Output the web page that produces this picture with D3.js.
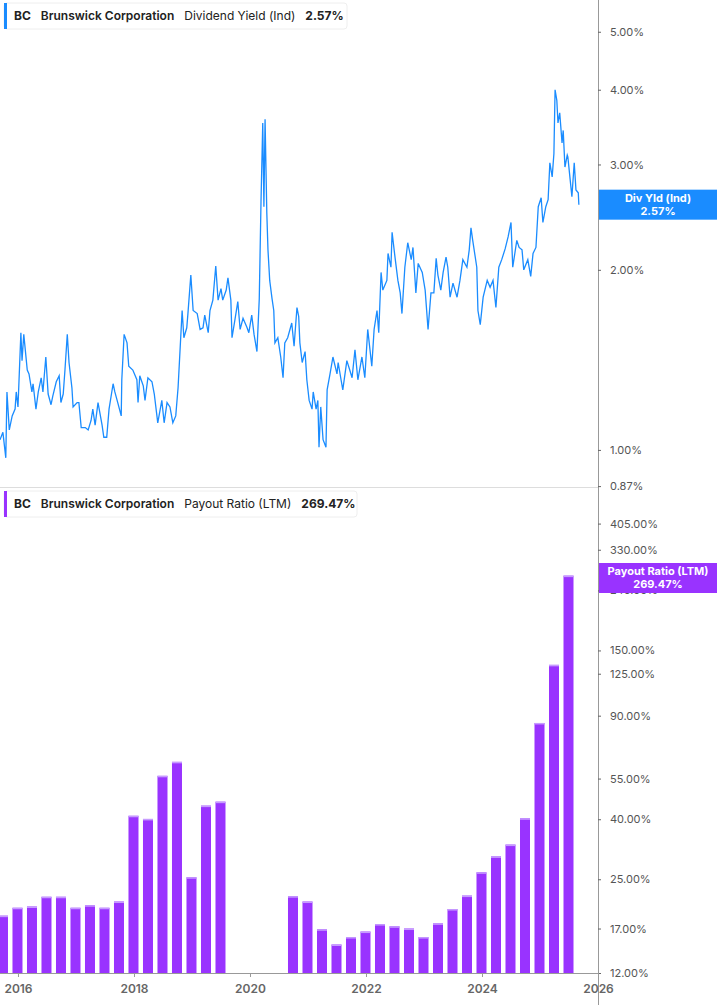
<!DOCTYPE html>
<html><head><meta charset="utf-8">
<script src="https://cdn.jsdelivr.net/npm/d3@7"></script>
<style>body{margin:0;background:#fff;font-family:Inter,"Noto Sans",sans-serif}</style>
</head><body><svg id="c" width="717" height="1005"></svg>
<script>
const yieldYears=[2015.69,2015.74,2015.79,2015.81,2015.85,2015.90,2015.95,2015.97,2016.00,2016.05,2016.07,2016.10,2016.16,2016.19,2016.24,2016.26,2016.31,2016.35,2016.40,2016.43,2016.48,2016.52,2016.57,2016.60,2016.66,2016.71,2016.74,2016.78,2016.81,2016.85,2016.88,2016.93,2016.95,2017.02,2017.05,2017.09,2017.16,2017.21,2017.26,2017.29,2017.33,2017.38,2017.45,2017.48,2017.53,2017.57,2017.64,2017.67,2017.72,2017.78,2017.79,2017.83,2017.88,2017.91,2017.98,2018.05,2018.07,2018.10,2018.16,2018.19,2018.24,2018.31,2018.35,2018.41,2018.48,2018.52,2018.57,2018.62,2018.67,2018.72,2018.76,2018.83,2018.86,2018.91,2018.93,2018.98,2019.02,2019.09,2019.14,2019.19,2019.22,2019.28,2019.31,2019.36,2019.41,2019.45,2019.50,2019.53,2019.59,2019.62,2019.67,2019.69,2019.74,2019.79,2019.83,2019.88,2019.95,2019.98,2020.03,2020.07,2020.12,2020.16,2020.19,2020.22,2020.24,2020.26,2020.29,2020.31,2020.34,2020.38,2020.41,2020.43,2020.48,2020.53,2020.57,2020.60,2020.65,2020.72,2020.76,2020.81,2020.84,2020.86,2020.90,2020.95,2020.98,2021.02,2021.07,2021.09,2021.14,2021.17,2021.19,2021.22,2021.26,2021.31,2021.33,2021.38,2021.43,2021.50,2021.52,2021.57,2021.60,2021.67,2021.72,2021.76,2021.81,2021.86,2021.93,2021.98,2022.03,2022.10,2022.14,2022.19,2022.22,2022.26,2022.29,2022.36,2022.38,2022.43,2022.45,2022.50,2022.55,2022.59,2022.62,2022.67,2022.72,2022.78,2022.81,2022.86,2022.90,2022.97,2023.02,2023.07,2023.12,2023.17,2023.21,2023.24,2023.29,2023.33,2023.38,2023.41,2023.45,2023.50,2023.57,2023.62,2023.67,2023.74,2023.78,2023.81,2023.84,2023.91,2023.93,2023.97,2024.02,2024.09,2024.14,2024.19,2024.24,2024.29,2024.34,2024.40,2024.45,2024.50,2024.53,2024.60,2024.64,2024.69,2024.72,2024.79,2024.84,2024.88,2024.93,2024.97,2025.02,2025.05,2025.10,2025.14,2025.17,2025.21,2025.24,2025.26,2025.29,2025.31,2025.34,2025.38,2025.40,2025.43,2025.47,2025.48,2025.52,2025.55,2025.59,2025.62,2025.66,2025.67];
const yieldValues=[1.04,1.07,0.97,1.25,1.08,1.14,1.17,1.25,1.18,1.57,1.41,1.56,1.36,1.34,1.25,1.29,1.17,1.25,1.32,1.25,1.43,1.24,1.19,1.23,1.30,1.33,1.20,1.24,1.36,1.56,1.40,1.27,1.18,1.20,1.20,1.09,1.09,1.08,1.12,1.17,1.10,1.20,1.10,1.05,1.05,1.17,1.29,1.25,1.20,1.14,1.31,1.56,1.51,1.38,1.36,1.31,1.20,1.33,1.28,1.21,1.32,1.30,1.24,1.11,1.21,1.11,1.20,1.18,1.11,1.14,1.27,1.71,1.54,1.60,1.69,1.96,1.71,1.69,1.59,1.60,1.68,1.57,1.71,1.78,2.03,1.78,1.86,1.78,1.85,1.94,1.78,1.54,1.65,1.77,1.59,1.66,1.60,1.57,1.68,1.56,1.46,1.79,2.60,3.52,2.55,3.57,2.49,2.16,1.92,1.79,1.71,1.51,1.54,1.43,1.32,1.51,1.54,1.63,1.49,1.73,1.67,1.51,1.40,1.46,1.31,1.21,1.17,1.25,1.17,1.21,1.01,1.18,1.04,1.01,1.26,1.34,1.43,1.34,1.40,1.31,1.26,1.41,1.36,1.32,1.47,1.31,1.43,1.32,1.59,1.38,1.59,1.71,1.57,1.98,1.85,1.92,2.13,2.02,2.31,2.10,1.92,1.83,1.69,2.02,2.22,2.08,2.18,1.83,2.05,1.98,1.85,1.59,1.83,1.83,2.09,1.96,1.85,1.98,2.10,2.02,1.80,1.90,1.80,1.92,2.08,2.02,2.16,2.35,2.24,2.02,1.71,1.62,1.80,1.92,1.87,1.92,1.73,2.02,2.08,2.17,2.27,2.40,2.02,2.24,2.18,2.16,2.00,2.08,1.95,2.13,2.18,2.55,2.64,2.40,2.55,2.62,3.02,2.86,3.13,4.00,3.84,3.52,3.66,3.26,3.42,2.97,3.11,3.09,2.83,2.65,3.02,2.72,2.69,2.57];
const payoutQuarters=["2015Q3","2015Q4","2016Q1","2016Q2","2016Q3","2016Q4","2017Q1","2017Q2","2017Q3","2017Q4","2018Q1","2018Q2","2018Q3","2018Q4","2019Q1","2019Q2","2020Q3","2020Q4","2021Q1","2021Q2","2021Q3","2021Q4","2022Q1","2022Q2","2022Q3","2022Q4","2023Q1","2023Q2","2023Q3","2023Q4","2024Q1","2024Q2","2024Q3","2024Q4","2025Q1","2025Q2"];
const payoutValues=[18.8,20.0,20.2,21.8,21.8,20.0,20.4,20.0,21.0,41.1,40.1,56.2,62.7,25.4,44.5,45.9,21.9,21.0,16.9,15.0,15.9,16.6,17.6,17.3,17.0,15.9,17.7,19.8,22.0,26.4,29.9,32.8,40.3,85,134,269.47];
const yieldTicks=[1,2,3,4,5];
const payoutTicks=[12,17,25,40,55,90,125,150,240,330,405];
const yearTicks=[2016,2018,2020,2022,2024,2026];

const svg=d3.select("#c");
const W=598;
const x=d3.scaleLinear().domain([2015.69,2026.0]).range([0,W]);
const yTop=d3.scaleLog().domain([0.867,5.65]).range([487,0]);
const yBot=d3.scaleLog().domain([12,531]).range([973,489]);
const blue="#1a8cff", purple="#9933ff";

// separator & axes
svg.append("line").attr("x1",0).attr("x2",W).attr("y1",487.5).attr("y2",487.5).attr("stroke","#ddd");
svg.append("line").attr("x1",W+0.5).attr("x2",W+0.5).attr("y1",0).attr("y2",1005).attr("stroke","#999");
svg.append("line").attr("x1",0).attr("x2",W).attr("y1",973.5).attr("y2",973.5).attr("stroke","#999");

const gT=svg.append("g").attr("transform",`translate(${W},0)`).call(d3.axisRight(yTop).tickValues(yieldTicks.concat([0.87])).tickSize(3).tickFormat(d=>d.toFixed(2)+"%"));
const gB=svg.append("g").attr("transform",`translate(${W},0)`).call(d3.axisRight(yBot).tickValues(payoutTicks).tickSize(3).tickFormat(d=>d.toFixed(2)+"%"));
[gT,gB].forEach(g=>{g.select(".domain").remove();g.selectAll("line").attr("stroke","#666");g.selectAll("text").attr("fill","#555").style("font-size","11px").style("font-family","Inter").attr("x",12);});

const gX=svg.append("g").attr("transform","translate(0,973)").call(d3.axisBottom(x).tickValues(yearTicks).tickSize(4).tickFormat(d3.format("d")));
gX.select(".domain").remove();
gX.selectAll("line").attr("stroke","#999");
gX.selectAll("text").attr("fill","#666").style("font-size","12px").style("font-weight","600").style("font-family","Inter").attr("dy","1.1em");

// line
const pts=yieldYears.map((t,i)=>[t,yieldValues[i]]);
svg.append("path").datum(pts).attr("fill","none").attr("stroke",blue).attr("stroke-width",1.3)
 .attr("d",d3.line().x(d=>x(d[0])).y(d=>yTop(d[1])));

// bars
const qt=q=>{const y=+q.slice(0,4),n=+q.slice(5);return y+n*0.25;};
payoutQuarters.forEach((q,i)=>{
  const cx=x(qt(q)), v=payoutValues[i];
  svg.append("rect").attr("x",cx-5.5).attr("width",10).attr("y",yBot(v)).attr("height",973-yBot(v)).attr("fill",purple);
  svg.append("rect").attr("x",cx-5.5).attr("width",10).attr("y",yBot(v)).attr("height",1.5).attr("fill","#c69cff");
});

// legends
function legend(y,w,color,metric,val){
  const g=svg.append("g").attr("transform",`translate(4,${y})`);
  g.append("rect").attr("width",w).attr("height",26).attr("rx",3).attr("fill","#fff").attr("stroke","#eee");
  g.append("rect").attr("width",3).attr("height",26).attr("fill",color);
  const t=g.append("text").attr("x",10).attr("y",17).style("font-size","12px").style("font-family","Inter").attr("fill","#222");
  t.append("tspan").text("BC").style("font-weight","700");
  t.append("tspan").attr("dx",10).text("Brunswick Corporation").style("font-weight","600");
  t.append("tspan").attr("dx",10).text(metric).style("font-weight","400");
  t.append("tspan").attr("dx",10).text(val).style("font-weight","700");
}
legend(3,343,blue,"Dividend Yield (Ind)","2.57%");
legend(491,353,purple,"Payout Ratio (LTM)","269.47%");

// tags
function tag(y,color,l1,l2){
  svg.append("rect").attr("x",W+1).attr("y",y).attr("width",717-W).attr("height",30).attr("fill",color);
  svg.append("text").attr("x",W+60).attr("y",y+12).attr("text-anchor","middle").attr("fill","#fff").style("font-size","11px").style("font-weight","700").style("font-family","Inter").text(l1);
  svg.append("text").attr("x",W+60).attr("y",y+25).attr("text-anchor","middle").attr("fill","#fff").style("font-size","11px").style("font-weight","700").style("font-family","Inter").text(l2);
}
tag(yTop(2.57)-15,blue,"Div Yld (Ind)","2.57%");
tag(563,purple,"Payout Ratio (LTM)","269.47%");
</script></body></html>
